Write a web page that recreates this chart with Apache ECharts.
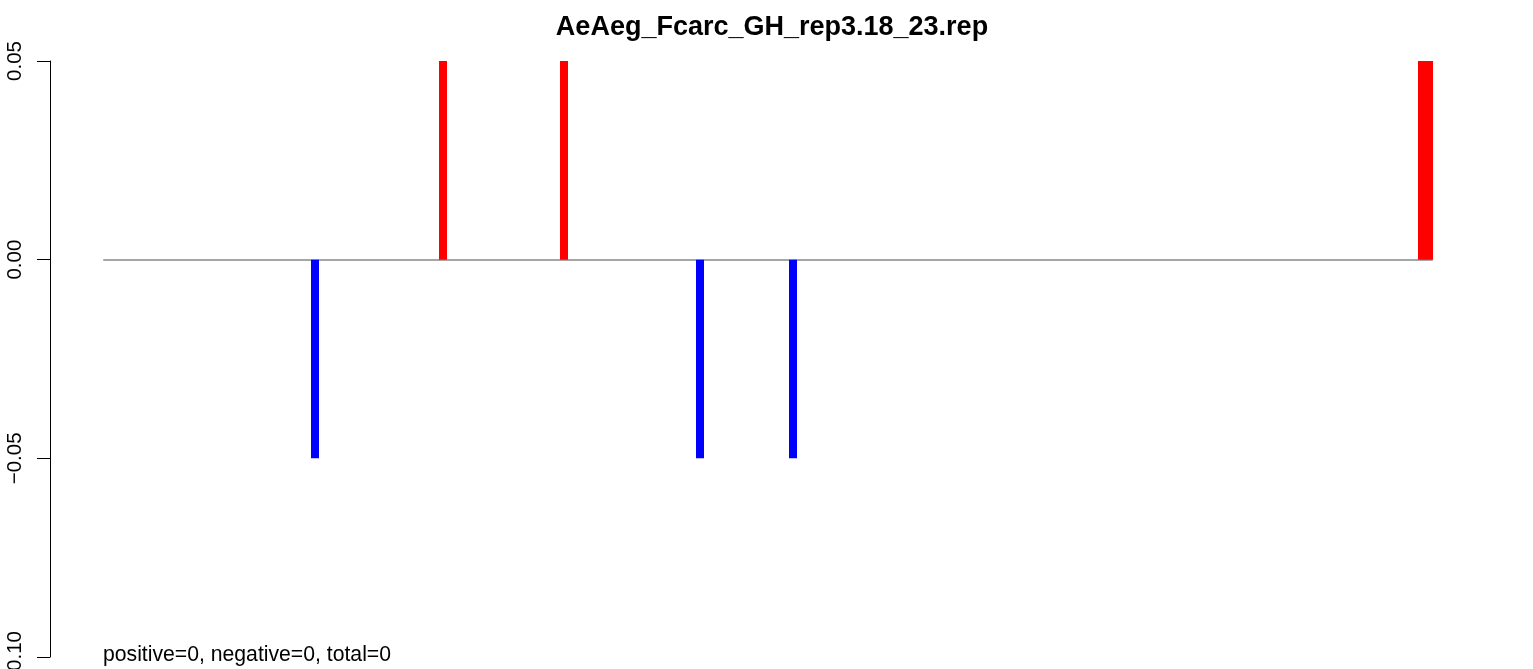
<!DOCTYPE html>
<html>
<head>
<meta charset="utf-8">
<title>AeAeg_Fcarc_GH_rep3.18_23.rep</title>
<script src="https://cdn.jsdelivr.net/npm/echarts@6/dist/echarts.min.js"></script>
<style>
html, body { margin: 0; padding: 0; background: #fff; }
#chart { width: 1533px; height: 669px; }
</style>
</head>
<body>
<div id="chart"></div>
<script>
// plot title and the count line under the plot
var plotTitle = "AeAeg_Fcarc_GH_rep3.18_23.rep";
var countText = "positive=0, negative=0, total=0";

// position of each bar along the track (same units as the x axis) and its value
var positions = [211, 339, 460, 596, 689, 1318, 1325];
var values = [-0.05, 0.05, 0.05, -0.05, -0.05, 0.05, 0.05];

// y axis range / ticks
var yMin = -0.10;
var yMax = 0.05;
var yStep = 0.05;
var xMin = 0;
var xMax = 1328;

var font = "'Liberation Sans', Arial, Helvetica, sans-serif";

var barData = [];
for (var i = 0; i < positions.length; i++) {
    barData.push([positions[i], values[i]]);
}

var chart = echarts.init(document.getElementById("chart"));

var option = {
    backgroundColor: "#ffffff",
    animation: false,
    title: {
        text: plotTitle,
        left: 772,
        top: 14,
        padding: 0,
        textAlign: "center",
        textStyle: {
            fontFamily: font,
            fontSize: 27,
            fontWeight: "bold",
            color: "#000",
            lineHeight: 27
        }
    },
    graphic: [{
        type: "text",
        left: 103,
        top: 645,
        style: {
            text: countText,
            font: "21.2px " + font,
            fill: "#000"
        }
    }],
    grid: {
        left: 104,
        right: 101,
        top: 61,
        bottom: 12,
        containLabel: false,
        outerBoundsMode: "none"
    },
    xAxis: {
        type: "value",
        min: xMin,
        max: xMax,
        axisLine: { show: true, onZero: true, lineStyle: { color: "#a6a6a6", width: 2 } },
        axisTick: { show: false },
        axisLabel: { show: false },
        splitLine: { show: false }
    },
    yAxis: {
        type: "value",
        min: yMin,
        max: yMax,
        interval: yStep,
        offset: 54,
        axisLine: { show: true, onZero: false, lineStyle: { color: "#000", width: 1 } },
        axisTick: { show: true, length: 13, lineStyle: { color: "#000", width: 1 } },
        axisLabel: {
            rotate: 90,
            margin: 24,
            fontFamily: font,
            fontSize: 20.5,
            color: "#000",
            formatter: function (v) {
                var s = Math.abs(v).toFixed(2);
                return v < -1e-9 ? "\u2212" + s : s;
            }
        },
        splitLine: { show: false }
    },
    series: [{
        type: "bar",
        data: barData,
        barWidth: 8,
        clip: false,
        itemStyle: {
            color: function (p) {
                return p.value[1] > 0 ? "#ff0000" : "#0000ff";
            }
        }
    }]
};

chart.setOption(option);
</script>
</body>
</html>
